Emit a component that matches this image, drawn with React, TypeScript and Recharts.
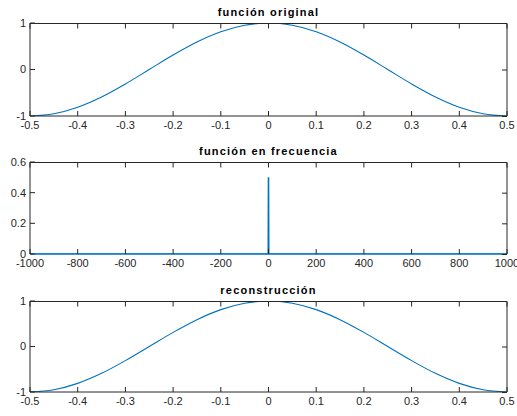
import React from 'react';
import { LineChart, Line, XAxis, YAxis } from 'recharts';

// time axis samples (s) and the values
const timeX = [-0.5, -0.45, -0.4, -0.35, -0.3, -0.25, -0.2, -0.15, -0.1, -0.05, 0, 0.05, 0.1, 0.15, 0.2, 0.25, 0.3, 0.35, 0.4, 0.45, 0.5];
const originalY = [-1, -0.95, -0.81, -0.59, -0.31, 0, 0.31, 0.59, 0.81, 0.95, 1, 0.95, 0.81, 0.59, 0.31, 0, -0.31, -0.59, -0.81, -0.95, -1];
const reconY = [-1, -0.95, -0.81, -0.59, -0.31, 0, 0.31, 0.59, 0.81, 0.95, 1, 0.95, 0.81, 0.59, 0.31, 0, -0.31, -0.59, -0.81, -0.95, -1];

// spectrum: flat zero with the peak near 0 Hz
const freqX = [-1000, -2, -1, 0, 1, 2, 1000];
const freqY = [0, 0, 0.5, 0, 0.5, 0, 0];

const timeTicks = [-0.5, -0.4, -0.3, -0.2, -0.1, 0, 0.1, 0.2, 0.3, 0.4, 0.5];
const ampTicks = [-1, 0, 1];
const freqTicks = [-1000, -800, -600, -400, -200, 0, 200, 400, 600, 800, 1000];
const magTicks = [0, 0.2, 0.4, 0.6];

const titles = ['función original', 'función en frecuencia', 'reconstrucción'];

const AXIS = '#262626';
const BLUE = '#0072BD';
const FONT = '"Liberation Sans", Arial, Helvetica, sans-serif';
const TICK = 5;
const CHART_W = 517;
const LEFT = 30; // y axis width
const RIGHT = 10; // right margin
const X_AXIS_H = 24;

const toRows = (xs: number[], ys: number[]) => xs.map((x, i) => ({ x, y: ys[i] }));

interface PanelProps {
  rows: { x: number; y: number }[];
  xDomain: [number, number];
  xTicks: number[];
  yDomain: [number, number];
  yTicks: number[];
  title: string;
  top: number;
  height: number;
  marginTop: number;
  titleTop: number;
  curve: 'monotone' | 'linear';
  baseColor?: string; // bottom edge colour (blue when the series lies on it)
}

const Panel: React.FC<PanelProps> = ({ rows, xDomain, xTicks, yDomain, yTicks, title, top, height, marginTop, titleTop, curve, baseColor }) => {
  const tickStyle = { fill: AXIS, fontSize: 11, fontFamily: FONT };
  const plotW = CHART_W - LEFT - RIGHT;
  const plotH = height - marginTop - X_AXIS_H;
  const fx = (v: number) => ((v - xDomain[0]) / (xDomain[1] - xDomain[0])) * plotW;
  const fy = (v: number) => ((yDomain[1] - v) / (yDomain[1] - yDomain[0])) * plotH;
  return (
    <>
      <div
        style={{
          position: 'absolute',
          left: LEFT,
          width: plotW,
          top: titleTop,
          textAlign: 'center',
          fontFamily: FONT,
          fontWeight: 'bold',
          fontSize: 11,
          lineHeight: '11px',
          letterSpacing: 1.2,
          color: '#000',
          whiteSpace: 'nowrap',
        }}
      >
        {title}
      </div>
      <div style={{ position: 'absolute', left: 0, top }}>
        <LineChart width={CHART_W} height={height} data={rows} margin={{ top: marginTop, right: RIGHT, left: 0, bottom: 0 }}>
          <XAxis
            dataKey="x"
            type="number"
            domain={xDomain}
            ticks={xTicks}
            interval={0}
            allowDataOverflow
            height={X_AXIS_H}
            tickSize={-TICK}
            tickMargin={10}
            stroke={AXIS}
            axisLine={{ stroke: baseColor || AXIS, strokeWidth: baseColor ? 1.6 : 1 }}
            tick={tickStyle}
          />
          <YAxis
            type="number"
            domain={yDomain}
            ticks={yTicks}
            interval={0}
            allowDataOverflow
            width={LEFT}
            tickSize={-TICK}
            tickMargin={9}
            stroke={AXIS}
            tick={tickStyle}
          />
          <Line
            type={curve}
            dataKey="y"
            stroke={BLUE}
            strokeWidth={1.1}
            dot={false}
            activeDot={false}
            isAnimationActive={false}
          />
        </LineChart>
      </div>
      {/* top and right edges of the box, with inward ticks */}
      <svg
        width={plotW + 1}
        height={plotH + 1}
        style={{ position: 'absolute', left: LEFT, top: top + marginTop - 0.5, overflow: 'visible', pointerEvents: 'none' }}
      >
        <path d={`M0,0.5 H${plotW} V${plotH}`} fill="none" stroke={AXIS} strokeWidth={1} />
        {xTicks.map((t) => (
          <line key={'t' + t} x1={fx(t)} x2={fx(t)} y1={0.5} y2={0.5 + TICK} stroke={AXIS} strokeWidth={1} />
        ))}
        {yTicks.map((t) => (
          <line key={'r' + t} x1={plotW} x2={plotW - TICK} y1={fy(t) + 0.5} y2={fy(t) + 0.5} stroke={AXIS} strokeWidth={1} />
        ))}
      </svg>
    </>
  );
};

export default function App() {
  return (
    <div style={{ position: 'absolute', left: 0, top: 0, width: 517, height: 416, background: '#fff', overflow: 'hidden' }}>
      <Panel
        rows={toRows(timeX, originalY)}
        xDomain={[-0.5, 0.5]}
        xTicks={timeTicks}
        yDomain={[-1, 1]}
        yTicks={ampTicks}
        title={titles[0]}
        top={0}
        height={140}
        marginTop={23}
        titleTop={7.4}
        curve="monotone"
      />
      <Panel
        rows={toRows(freqX, freqY)}
        xDomain={[-1000, 1000]}
        xTicks={freqTicks}
        yDomain={[0, 0.6]}
        yTicks={magTicks}
        title={titles[1]}
        top={140}
        height={138}
        marginTop={22}
        titleTop={146.4}
        curve="linear"
        baseColor={BLUE}
      />
      <Panel
        rows={toRows(timeX, reconY)}
        xDomain={[-0.5, 0.5]}
        xTicks={timeTicks}
        yDomain={[-1, 1]}
        yTicks={ampTicks}
        title={titles[2]}
        top={278}
        height={138}
        marginTop={23}
        titleTop={284.7}
        curve="monotone"
      />
    </div>
  );
}
